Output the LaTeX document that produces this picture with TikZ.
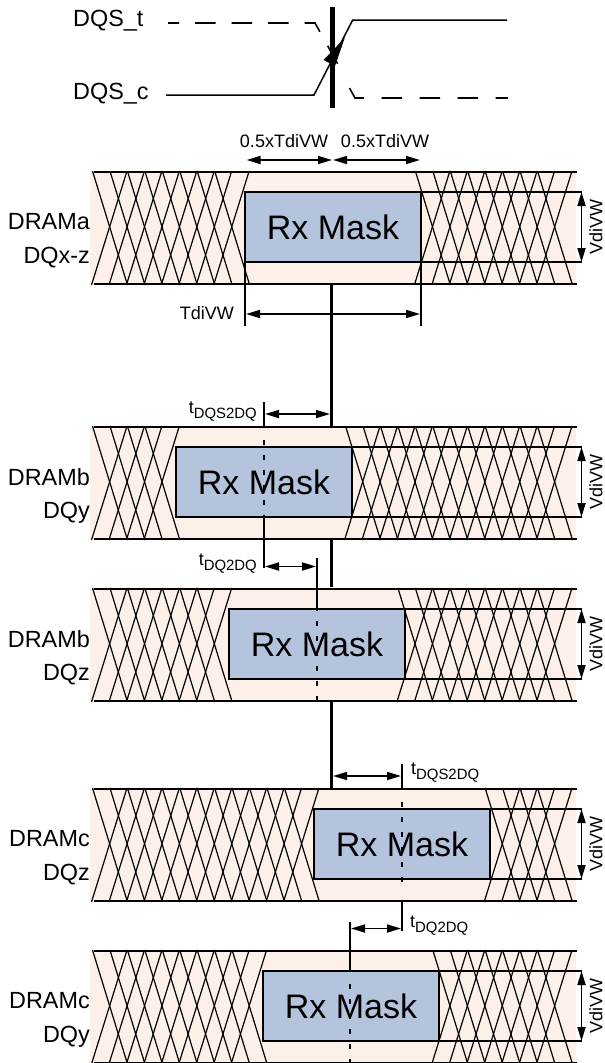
\documentclass[tikz,border=0pt]{standalone}
\usepackage{fontspec}
\setmainfont{Liberation Sans}
\usetikzlibrary{arrows.meta}

\definecolor{eyebg}{HTML}{FDF0E8}
\definecolor{maskblue}{HTML}{B4C4DC}

\newcommand{\tsub}[1]{t\raisebox{-0.28em}{\fontsize{14.9}{15}\selectfont #1}}

\tikzset{
    sigtext/.style={font=\fontsize{23.4}{24}\selectfont, inner sep=0pt},
    dimtext/.style={font=\fontsize{18}{19}\selectfont, inner sep=0pt},
    masktext/.style={font=\fontsize{34}{36}\selectfont, inner sep=0pt},
    dimarrow/.style={line width=1.7pt, {Triangle[length=14pt,width=8pt]}-{Triangle[length=14pt,width=8pt]}},
    railline/.style={line width=2pt},
    strobeline/.style={line width=3pt},
    extline/.style={line width=1.7pt},
    hatchline/.style={line width=1.2pt},
    dashline/.style={line width=1.9pt, dash pattern=on 5pt off 10pt}
}

\begin{document}
\begin{tikzpicture}[x=1pt, y=-1pt]

    \useasboundingbox (0,0) rectangle (605,1063);

    % Rows of the eye pattern
    \foreach \rowid/\rowtop/\maskleft/\nleft/\nright/\labelone/\labeltwo in {
        a/172/245/7/7/DRAMa/DQx-z,
        b/427/176/3/11/DRAMb/DQy,
        c/589/229/6/8/DRAMb/DQz,
        d/789/314/11/3/DRAMc/DQz,
        e/951/263/8/6/DRAMc/DQy}
    {
        \pgfmathsetmacro{\rowbot}{\rowtop+112}
        \pgfmathsetmacro{\masktop}{\rowtop+20}
        \pgfmathsetmacro{\maskbot}{\rowtop+90}
        \pgfmathsetmacro{\maskright}{\maskleft+176}

        \fill[eyebg] (90,\rowtop) rectangle (576,\rowbot);

        % Crossing lines, left group then right group
        \foreach \k in {0,...,\nleft} {
            \pgfmathsetmacro{\xa}{92.5+17.45*\k}
            \draw[hatchline] (\xa,\rowtop-1) -- (\xa+35,\rowbot+1);
            \draw[hatchline] (\xa-1,\rowbot+1) -- (\xa+34.5,\rowtop-1);
        }
        \foreach \k in {0,...,\nright} {
            \pgfmathsetmacro{\xa}{537.5-17.45*\k}
            \draw[hatchline] (\xa,\rowtop-1) -- (\xa+35,\rowbot+1);
            \draw[hatchline] (\xa-1,\rowbot+1) -- (\xa+34.5,\rowtop-1);
        }

        \draw[railline] (94,\rowtop) -- (577,\rowtop);
        \draw[railline] (94,\rowbot) -- (577,\rowbot);

        % Mask box
        \draw[railline, fill=maskblue] (\maskleft,\masktop) rectangle (\maskright,\maskbot);
        \draw[railline] (\maskright,\masktop) -- (582,\masktop);
        \draw[railline] (\maskright,\maskbot) -- (582,\maskbot);
        \node[masktext] (mask\rowid) at (\maskleft+88,\rowtop+55) {Rx Mask};

        % Height of the mask
        \draw[dimarrow] (581.5,\masktop) -- (581.5,\maskbot);
        \node[dimtext, rotate=90] (vdi\rowid) at (596,\rowtop+55) {VdiVW};

        % Labels
        \node[sigtext, anchor=east] (dram\rowid) at (90,\rowtop+50) {\labelone};
        \node[sigtext, anchor=east] (dq\rowid) at (90,\rowtop+86) {\labeltwo};
    }

    % Strobe waveforms
    \draw[line width=1.6pt, dash pattern=on 20.5pt off 16pt, dash phase=9.5pt]
        (168,23) -- (315,23) -- (340,68);
    \draw[line width=1.6pt, dash pattern=on 20.5pt off 17.5pt]
        (349.5,88) -- (355,98) -- (508,98);
    \draw[line width=1.5pt] (166,95) -- (314,95) -- (352.7,20) -- (507,20);
    \node[sigtext, anchor=west] (dqst) at (73,21) {DQS\_t};
    \node[sigtext, anchor=west] (dqsc) at (73,94) {DQS\_c};

    % Strobe centre line
    \draw[line width=5pt] (332,7) -- (332,108);
    \draw[strobeline] (331.5,284) -- (331.5,427);
    \draw[strobeline] (331.5,539) -- (331.5,587);
    \draw[strobeline] (331.5,701) -- (331.5,789);
    \fill (344.7,38) -- (323.5,60) -- (335,66) -- cycle;

    % Window of the first row
    \draw[dimarrow] (246.5,160) -- (332,160);
    \draw[dimarrow] (333,160) -- (420,160);
    \node[dimtext] (halfa) at (284,141.5) {0.5xTdiVW};
    \node[dimtext] (halfb) at (385,141.5) {0.5xTdiVW};
    \draw[extline] (245,262) -- (245,326);
    \draw[extline] (421,262) -- (421,326);
    \draw[dimarrow] (246,314) -- (420,314);
    \node[dimtext, anchor=east] (tdi) at (234,313) {TdiVW};

    % Skew between the rows
    \draw[extline] (264,402) -- (264,428);
    \draw[dashline] (264,440) -- (264,517);
    \draw[extline] (264,515) -- (264,568);
    \draw[dimarrow] (265,414) -- (330,414);
    \node[dimtext, anchor=east] (skewb) at (257,412) {\tsub{DQS2DQ}};
    \draw[dimarrow] (265,566.5) -- (316,566.5);
    \node[dimtext, anchor=east] (skewc) at (257,564) {\tsub{DQ2DQ}};

    \draw[extline] (316.7,558) -- (316.7,611);
    \draw[dashline] (316.7,621) -- (316.7,702);

    \draw[extline] (402,764) -- (402,790);
    \draw[dashline] (402,802) -- (402,890);
    \draw[extline] (402,900) -- (402,931);
    \draw[dimarrow] (333,776) -- (401,776);
    \node[dimtext, anchor=west] (skewd) at (411,773) {\tsub{DQS2DQ}};
    \draw[dimarrow] (351,928.5) -- (401,928.5);
    \node[dimtext, anchor=west] (skewe) at (410,926) {\tsub{DQ2DQ}};

    \draw[extline] (350,921.5) -- (350,972);
    \draw[dashline] (350,984) -- (350,1063);

\end{tikzpicture}
\end{document}
